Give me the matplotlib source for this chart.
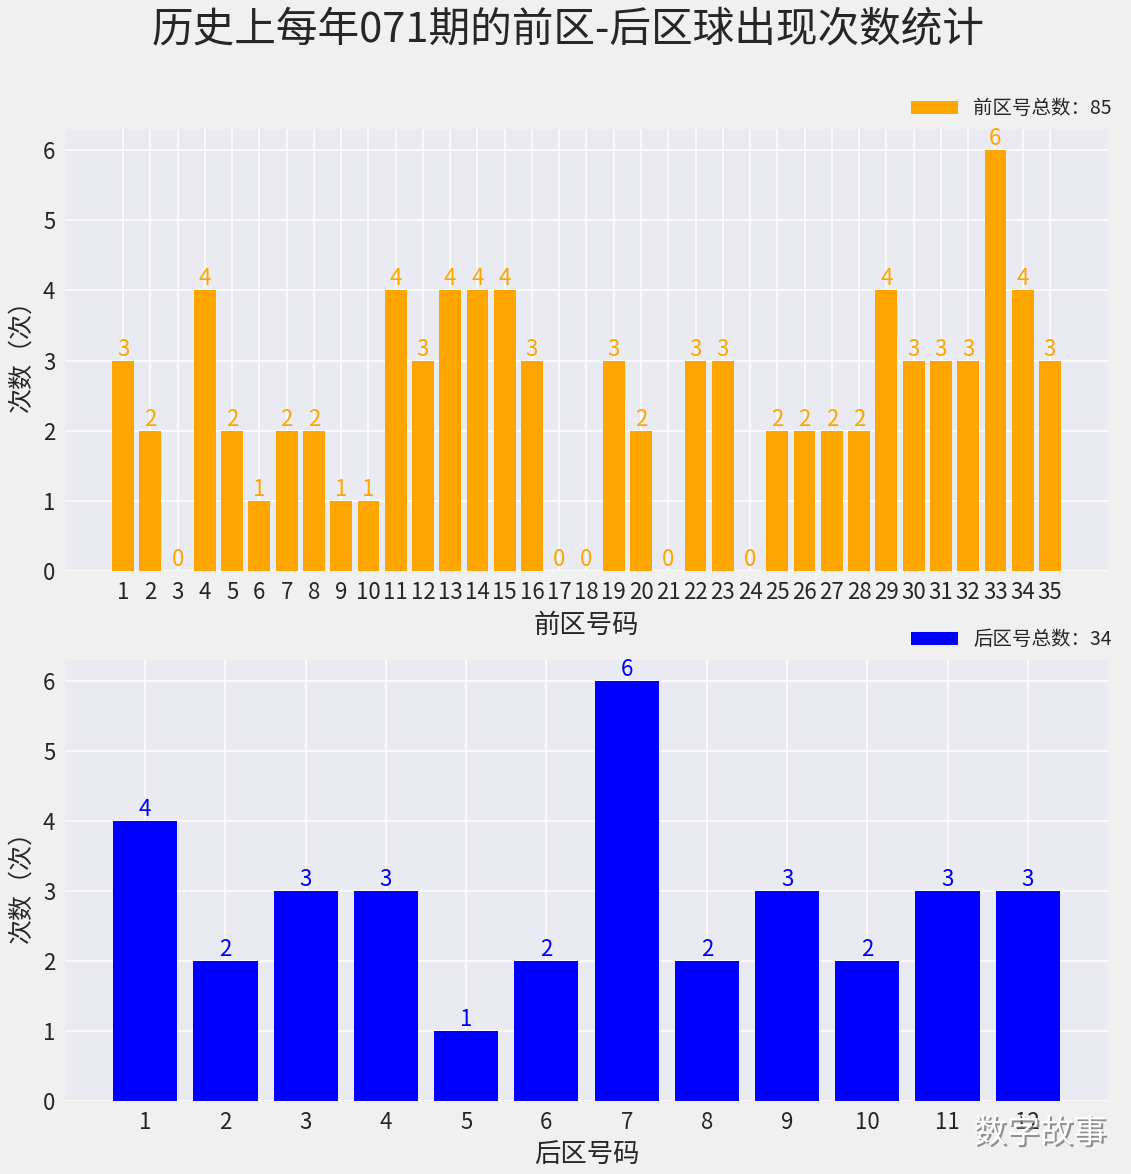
import matplotlib
matplotlib.use("Agg")
import matplotlib.pyplot as plt
import matplotlib.patheffects as pe

plt.rcParams['font.family'] = ['Noto Sans CJK SC', 'DejaVu Sans']
plt.rcParams['axes.unicode_minus'] = False

front_numbers = [str(i) for i in range(1, 36)]
front_counts = [3, 2, 0, 4, 2, 1, 2, 2, 1, 1, 4, 3, 4, 4, 4, 3, 0, 0, 3, 2,
                0, 3, 3, 0, 2, 2, 2, 2, 4, 3, 3, 3, 6, 4, 3]
back_numbers = [str(i) for i in range(1, 13)]
back_counts = [4, 2, 3, 3, 1, 2, 6, 2, 3, 2, 3, 3]

title = "历史上每年071期的前区-后区球出现次数统计"
front_label = "前区号总数：%d" % sum(front_counts)
back_label = "后区号总数：%d" % sum(back_counts)

W, H = 1131, 1174
fig = plt.figure(figsize=(W / 100, H / 100), dpi=100, facecolor='#f0f0f0')

def make_ax(top, bottom):
    return fig.add_axes([65 / W, 1 - bottom / H, (1108 - 65) / W, (bottom - top) / H])

txt = '#262626'

def style(ax):
    ax.set_facecolor('#eaeaf2')
    for s in ax.spines.values():
        s.set_visible(False)
    ax.grid(True, color='white', linewidth=1.1)
    ax.set_axisbelow(True)
    ax.tick_params(length=0, labelsize=16, colors=txt, pad=7)
    ax.set_yticks(range(0, 7))
    ax.set_ylim(0, 6.3)

ax1 = make_ax(129, 571)
style(ax1)
xs1 = list(range(1, 36))
ax1.bar(xs1, front_counts, width=0.8, color='orange', label=front_label)
ax1.set_xticks(xs1)
ax1.set_xticklabels(front_numbers)
ax1.set_xlim(1 - 2.13, 35 + 2.13)
for x, v in zip(xs1, front_counts):
    ax1.text(x, v, str(v), ha='center', va='bottom', color='orange', fontsize=16)
ax1.set_xlabel("前区号码", fontsize=19, color=txt, labelpad=6)
ax1.set_ylabel("次数（次）", fontsize=18, color=txt, labelpad=6)
ax1.legend(loc='lower right', bbox_to_anchor=(1.013, 1.0), frameon=False,
           fontsize=14, handlelength=2.4, borderaxespad=0.1, labelcolor=txt)

ax2 = make_ax(660, 1101)
style(ax2)
xs2 = list(range(1, 13))
ax2.bar(xs2, back_counts, width=0.8, color='blue', label=back_label)
ax2.set_xticks(xs2)
ax2.set_xticklabels(back_numbers)
ax2.set_xlim(0, 13)
for x, v in zip(xs2, back_counts):
    ax2.text(x, v, str(v), ha='center', va='bottom', color='blue', fontsize=16)
ax2.set_xlabel("后区号码", fontsize=19, color=txt, labelpad=6)
ax2.set_ylabel("次数（次）", fontsize=18, color=txt, labelpad=6)
ax2.legend(loc='lower right', bbox_to_anchor=(1.013, 1.0), frameon=False,
           fontsize=14, handlelength=2.4, borderaxespad=0.1, labelcolor=txt)

fig.text(568 / W, 1 - 30 / H, title, ha='center', va='center', fontsize=30,
         color=txt)

fig.text(1040 / W, 1 - 1133 / H, "数字故事", ha='center', va='center', fontsize=24,
         color='white',
         path_effects=[pe.withSimplePatchShadow(offset=(1.5, -1.5), shadow_rgbFace='#777777', alpha=0.8)])

fig.savefig("out.png", dpi=100, facecolor=fig.get_facecolor())
